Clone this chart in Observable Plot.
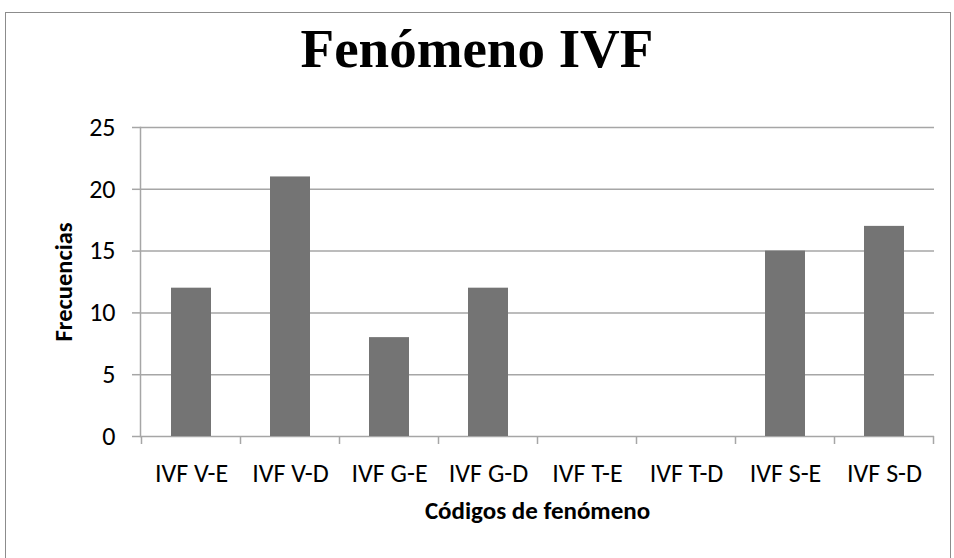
<!DOCTYPE html>
<html>
<head>
<meta charset="utf-8">
<script src="https://cdn.jsdelivr.net/npm/d3@7"></script>
<script src="https://cdn.jsdelivr.net/npm/@observablehq/plot@0.6"></script>
<style>
  html, body { margin: 0; padding: 0; background: #fff; }
  #wrap { position: relative; width: 954px; height: 558px; overflow: hidden; background: #fff; }
  #border { position: absolute; left: 5px; top: 12px; width: 946px; height: 600px; border: 1.5px solid #8c8c8c; box-sizing: border-box; }
  #title { position: absolute; left: 0; top: 22px; width: 954px; text-align: center;
           font: bold 55px "Liberation Serif", "Times New Roman", serif; line-height: 54px; color: #000; }
  #chart { position: absolute; left: 0; top: 90px; }
</style>
</head>
<body>
<div id="wrap">
  <div id="border"></div>
  <div id="title">Fenómeno IVF</div>
  <div id="chart"></div>
</div>
<script>
const categories = ["IVF V-E", "IVF V-D", "IVF G-E", "IVF G-D", "IVF T-E", "IVF T-D", "IVF S-E", "IVF S-D"];
const frequencies = [12, 21, 8, 12, 0, 0, 15, 17];
const yTicks = [0, 5, 10, 15, 20, 25];
const yTitle = "Frecuencias";
const xTitle = "Códigos de fenómeno";

const data = categories.map((c, i) => ({code: c, value: frequencies[i]}));
const font = "Carlito, Lato, 'Open Sans', sans-serif";

const plot = Plot.plot({
  width: 954,
  height: 468,
  marginTop: 37,
  marginBottom: 122,
  marginLeft: 140,
  marginRight: 20,
  style: {fontFamily: font, color: "#000", background: "transparent", overflow: "visible"},
  x: {domain: categories, paddingInner: 0.6, paddingOuter: 0.3, label: null},
  y: {domain: [0, 25], label: null},
  marks: [
    Plot.ruleY(yTicks, {stroke: "#a6a6a6", strokeWidth: 1.5}),
    Plot.frame({anchor: "left", stroke: "#a6a6a6", strokeWidth: 1.5}),
    Plot.barY(data, {x: "code", y: "value", fill: "#747474"}),
    Plot.axisY({ticks: yTicks, tickSize: 8, tickPadding: 17, stroke: "#a6a6a6", strokeWidth: 1.5, fontSize: 26, label: null}),
    Plot.axisX({tickSize: 0, tickPadding: 27, fontSize: 26, label: null}),
    Plot.text([yTitle], {frameAnchor: "left", textAnchor: "middle", dx: -76, rotate: -90, fontSize: 24.5, fontWeight: "bold", fill: "#000"}),
    Plot.text([xTitle], {frameAnchor: "bottom", dy: 82, fontSize: 25, fontWeight: "bold", fill: "#000"})
  ]
});

// category boundary tick marks below the x axis (Excel style)
const xs = plot.scale("x");
const ys = plot.scale("y");
const y0 = ys.apply(0);
const off = (xs.step - xs.bandwidth) / 2;
const bounds = categories.map(c => xs.apply(c) - off);
bounds.push(bounds[bounds.length - 1] + xs.step);
const root = plot.tagName.toLowerCase() === "svg" ? d3.select(plot) : d3.select(plot).select("svg");
root.append("g")
  .attr("stroke", "#a6a6a6")
  .attr("stroke-width", 1.5)
  .selectAll("line")
  .data(bounds)
  .join("line")
  .attr("x1", d => d).attr("x2", d => d)
  .attr("y1", y0).attr("y2", y0 + 8);

document.getElementById("chart").appendChild(plot);
</script>
</body>
</html>
